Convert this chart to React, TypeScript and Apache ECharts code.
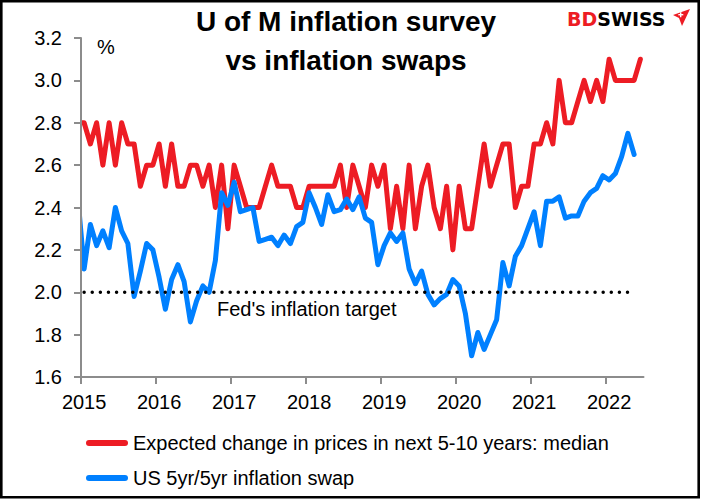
import { useEffect, useRef } from 'react';
import * as echarts from 'echarts';

const FONT = "'Liberation Sans', Arial, sans-serif";
const RED = '#ED1C24';
const BLUE = '#0080FF';
const AXIS_GREY = '#8C8C8C';

const TITLE_LINES = ['U of M inflation survey', 'vs inflation swaps'];
const UNIT_LABEL = '%';
const FED_LABEL = "Fed's inflation target";
const LOGO_RED = 'BD';
const LOGO_BLACK = 'SWISS';

const YEAR_TICKS = [2015, 2016, 2017, 2018, 2019, 2020, 2021, 2022];
const Y_MIN = 1.6;
const Y_MAX = 3.2;
const Y_STEP = 0.2;
const X_MIN = 2015;
const X_MAX = 2022.5;

// monthly observations, first entry is Dec 2014 (cut off by the axis)
const FIRST_MONTH = '2014-12';

const SURVEY_NAME = 'Expected change in prices in next 5-10 years: median';
const SURVEY = [
  2.8,
  2.8, 2.7, 2.8, 2.6, 2.8, 2.6, 2.8, 2.7, 2.7, 2.5, 2.6, 2.6,
  2.7, 2.5, 2.7, 2.5, 2.5, 2.6, 2.6, 2.5, 2.6, 2.4, 2.6, 2.3,
  2.6, 2.5, 2.4, 2.4, 2.4, 2.5, 2.6, 2.5, 2.5, 2.5, 2.4, 2.4,
  2.5, 2.5, 2.5, 2.5, 2.5, 2.6, 2.4, 2.6, 2.5, 2.4, 2.6, 2.5,
  2.6, 2.3, 2.5, 2.3, 2.6, 2.3, 2.5, 2.6, 2.4, 2.3, 2.5, 2.2,
  2.5, 2.3, 2.3, 2.5, 2.7, 2.5, 2.6, 2.7, 2.7, 2.4, 2.5, 2.5,
  2.7, 2.7, 2.8, 2.7, 3.0, 2.8, 2.8, 2.9, 3.0, 2.9, 3.0, 2.9,
  3.1, 3.0, 3.0, 3.0, 3.0, 3.1,
];

const SWAP_NAME = 'US 5yr/5yr inflation swap';
const SWAP = [
  2.45,
  2.11, 2.32, 2.22, 2.29, 2.21, 2.40, 2.29, 2.23, 1.98, 2.10, 2.23, 2.20,
  2.07, 1.92, 2.06, 2.13, 2.05, 1.86, 1.96, 2.03, 2.00, 2.15, 2.47, 2.41,
  2.52, 2.38, 2.39, 2.40, 2.24, 2.25, 2.26, 2.22, 2.27, 2.23, 2.31, 2.33,
  2.47, 2.40, 2.32, 2.46, 2.38, 2.39, 2.44, 2.39, 2.45, 2.35, 2.33, 2.13,
  2.22, 2.28, 2.24, 2.28, 2.11, 2.04, 2.10, 1.99, 1.94, 1.97, 1.99, 2.06,
  2.03, 1.90, 1.70, 1.81, 1.73, 1.80, 1.87, 2.14, 2.03, 2.17, 2.22, 2.30,
  2.38, 2.22, 2.43, 2.43, 2.45, 2.35, 2.36, 2.36, 2.43, 2.47, 2.49, 2.55,
  2.53, 2.56, 2.64, 2.75, 2.65,
];

const FED_TARGET = 2.0;
const FED_RANGE = ['2015-01', '2022-04'];

// mid-month position of a 'YYYY-MM' month on a decimal-year axis
function monthPos(ym: string): number {
  const [y, m] = ym.split('-').map(Number);
  return y + (m - 0.5) / 12;
}
function nthMonthPos(i: number): number {
  const [y, m] = FIRST_MONTH.split('-').map(Number);
  return y + (m - 1 + i + 0.5) / 12;
}

export default function App() {
  const ref = useRef<HTMLDivElement>(null);

  useEffect(() => {
    document.body.style.margin = '0';
    if (!ref.current) return;
    const chart = echarts.init(ref.current, undefined, { renderer: 'svg' });

    const legendIcon = 'path://M3,0 H39 A3,3 0 0 1 39,6 H3 A3,3 0 0 1 3,0 Z';
    const GRID = { left: 81, right: 57.5, top: 38, bottom: 122 };

    chart.setOption({
      animation: false,
      backgroundColor: '#FFFFFF',
      grid: { ...GRID, containLabel: false, outerBoundsMode: 'none' },
      xAxis: {
        type: 'value',
        min: X_MIN,
        max: X_MAX,
        interval: 1,
        z: 10,
        splitLine: { show: false },
        axisLine: { lineStyle: { color: AXIS_GREY, width: 2 } },
        axisTick: { show: true, length: 7, customValues: YEAR_TICKS, lineStyle: { color: AXIS_GREY, width: 2 } },
        axisLabel: {
          customValues: YEAR_TICKS.map((y) => y + 0.5 / 12),
          formatter: (v: number) => String(Math.floor(v)),
          margin: 15,
          color: '#000',
          fontSize: 20,
          fontFamily: FONT,
        },
      },
      yAxis: {
        type: 'value',
        min: Y_MIN,
        max: Y_MAX,
        interval: Y_STEP,
        z: 10,
        splitLine: { show: false },
        axisLine: { show: true, lineStyle: { color: AXIS_GREY, width: 2 } },
        axisTick: { show: true, length: 7, lineStyle: { color: AXIS_GREY, width: 2 } },
        axisLabel: {
          formatter: (v: number) => v.toFixed(1),
          margin: 19,
          color: '#000',
          fontSize: 20,
          fontFamily: FONT,
        },
      },
      legend: {
        orient: 'vertical',
        left: 86,
        top: 433,
        padding: 0,
        itemWidth: 42,
        itemHeight: 6,
        itemGap: 15,
        icon: legendIcon,
        textStyle: { color: '#000', fontSize: 20, fontFamily: FONT },
        data: [SURVEY_NAME, SWAP_NAME],
      },
      series: [
        {
          name: SURVEY_NAME,
          type: 'line',
          data: SURVEY.map((v, i) => [nthMonthPos(i), v]),
          showSymbol: false,
          symbol: 'none',
          clip: true,
          itemStyle: { color: RED },
          lineStyle: { color: RED, width: 5, join: 'round', cap: 'round' },
          z: 2,
        },
        {
          name: SWAP_NAME,
          type: 'line',
          data: SWAP.map((v, i) => [nthMonthPos(i), v]),
          showSymbol: false,
          symbol: 'none',
          clip: true,
          itemStyle: { color: BLUE },
          lineStyle: { color: BLUE, width: 5, join: 'round', cap: 'round' },
          z: 3,
        },
        {
          name: 'Fed target',
          type: 'line',
          data: FED_RANGE.map((m) => [monthPos(m), FED_TARGET]),
          showSymbol: false,
          symbol: 'none',
          itemStyle: { color: '#000' },
          lineStyle: { color: '#000', width: 3.5, type: [0.01, 8.1], cap: 'round' },
          z: 4,
        },
      ],
      graphic: [
        {
          // hides the part of the lines left of the value axis (below the axes, above the series)
          type: 'rect',
          shape: { x: 66, y: GRID.top - 10, width: GRID.left - 66, height: 499 - GRID.bottom - GRID.top + 14 },
          style: { fill: '#FFFFFF' },
          silent: true,
          z: 5,
        },
        {
          type: 'rect',
          shape: { x: 1.3, y: 1.3, width: 697.4, height: 495.9 },
          style: { fill: 'none', stroke: '#000', lineWidth: 2.6 },
          silent: true,
          z: 100,
        },
        {
          type: 'text',
          x: 346,
          y: 21.5,
          z: 20,
          style: { text: TITLE_LINES[0], fill: '#000', font: `bold 28px ${FONT}`, textAlign: 'center', textVerticalAlign: 'middle' },
        },
        {
          type: 'text',
          x: 346,
          y: 60.5,
          z: 20,
          style: { text: TITLE_LINES[1], fill: '#000', font: `bold 28px ${FONT}`, textAlign: 'center', textVerticalAlign: 'middle' },
        },
        {
          type: 'text',
          x: 97,
          y: 46.7,
          z: 20,
          style: { text: UNIT_LABEL, fill: '#000', font: `20px ${FONT}`, textAlign: 'left', textVerticalAlign: 'middle' },
        },
        {
          type: 'text',
          x: 217,
          y: 309,
          z: 20,
          style: { text: FED_LABEL, fill: '#000', font: `20px ${FONT}`, textAlign: 'left', textVerticalAlign: 'middle' },
        },
        {
          type: 'text',
          x: 567,
          y: 18.5,
          z: 20,
          style: {
            text: `{r|${LOGO_RED}}{k|${LOGO_BLACK}}`,
            textAlign: 'left',
            textVerticalAlign: 'middle',
            rich: {
              r: { fill: RED, fontSize: 19, fontWeight: 'bold', fontFamily: "'DejaVu Sans', sans-serif" },
              k: { fill: '#000', fontSize: 19, fontWeight: 'bold', fontFamily: "'DejaVu Sans', sans-serif" },
            },
          },
        },
        {
          type: 'polygon',
          z: 20,
          shape: { points: [[673, 15], [690, 9], [682, 26], [679, 18]] },
          style: { fill: RED },
        },
        {
          type: 'rect',
          z: 21,
          shape: { x: 680, y: 12.2, width: 1.4, height: 5 },
          style: { fill: '#fff' },
        },
        {
          type: 'rect',
          z: 21,
          shape: { x: 678.3, y: 14, width: 5, height: 1.4 },
          style: { fill: '#fff' },
        },
      ],
    });

    return () => {
      chart.dispose();
    };
  }, []);

  return <div ref={ref} style={{ width: 701, height: 499 }} />;
}
